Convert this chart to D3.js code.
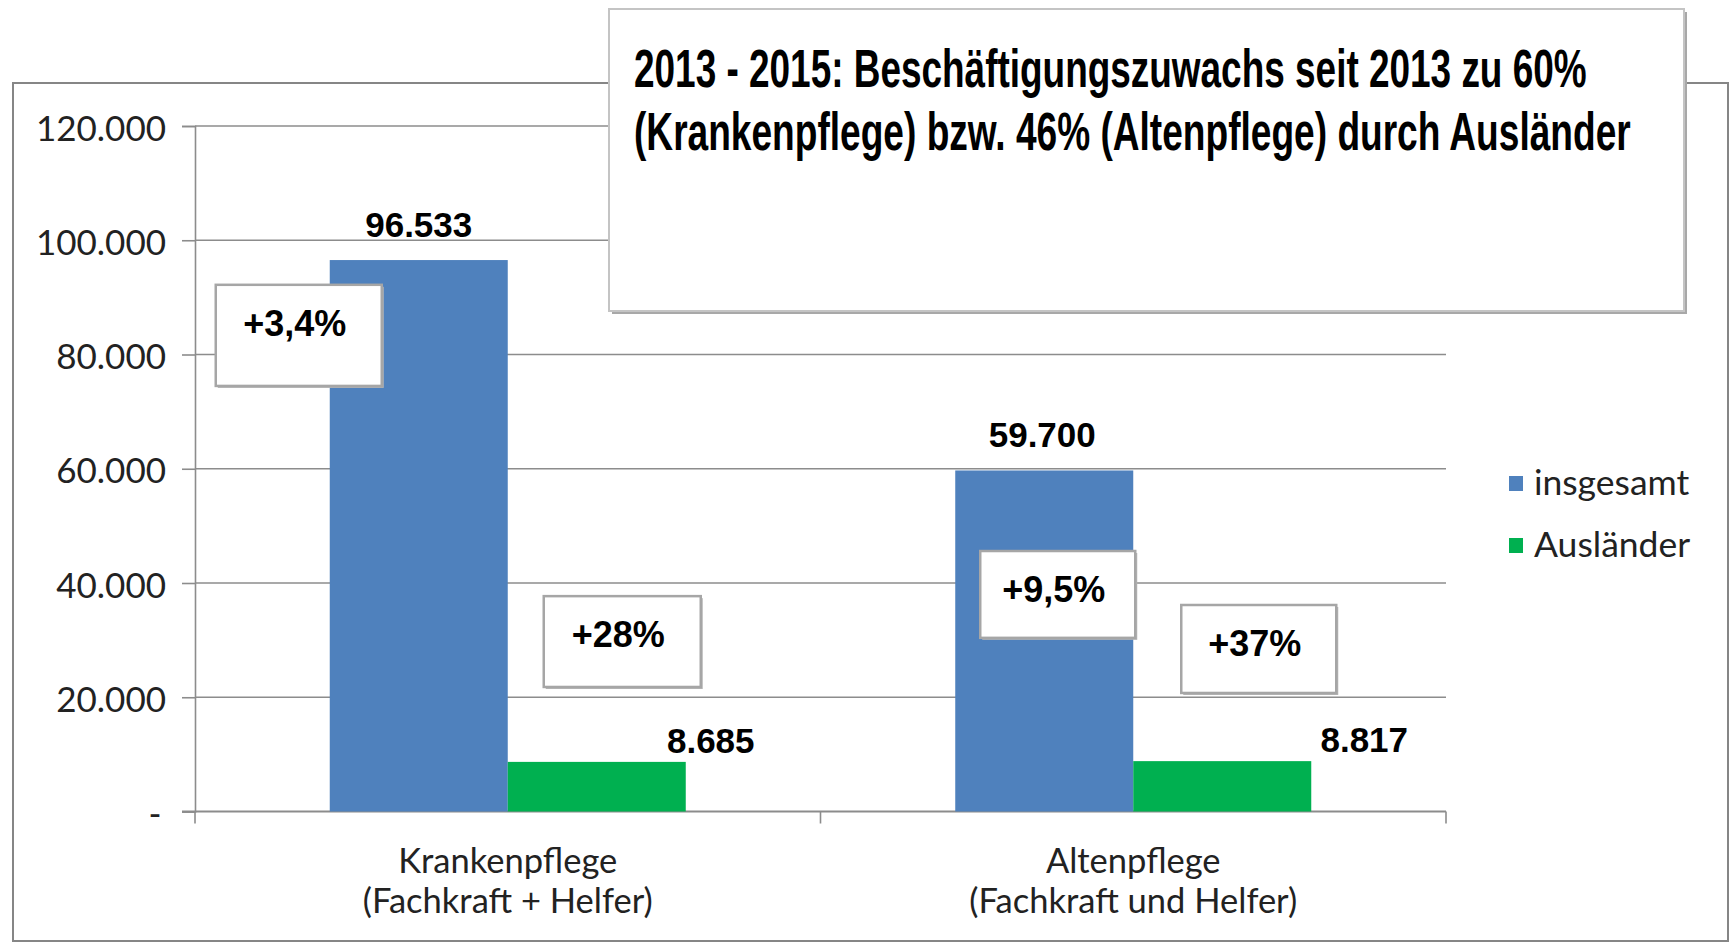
<!DOCTYPE html>
<html>
<head>
<meta charset="utf-8">
<script src="https://cdn.jsdelivr.net/npm/d3@7"></script>
<style>
  body { margin: 0; background: #fff; }
  svg { display: block; }
  .tick text { white-space: pre; }
</style>
</head>
<body>
<svg id="chart" width="1731" height="945"></svg>
<script>
// chart data
const categories = ["Krankenpflege", "Altenpflege"];
const categoryNotes = ["(Fachkraft + Helfer)", "(Fachkraft und Helfer)"];
const series = ["insgesamt", "Ausländer"];
const insgesamt = [96533, 59700];
const auslaender = [8685, 8817];
const changeInsgesamt = ["+3,4%", "+9,5%"];
const changeAuslaender = ["+28%", "+37%"];
const yTicks = [0, 20000, 40000, 60000, 80000, 100000, 120000];
const titleLines = [
    "2013 - 2015: Beschäftigungszuwachs seit 2013 zu 60%",
    "(Krankenpflege) bzw. 46% (Altenpflege) durch Ausländer"
];

const colors = {insgesamt: "#4f81bd", "Ausländer": "#00b050"};
const values = {insgesamt: insgesamt, "Ausländer": auslaender};
const changes = {insgesamt: changeInsgesamt, "Ausländer": changeAuslaender};

// manual placement of the callout boxes and moved labels (as in the original sheet)
const boxLayout = {
    insgesamt: [{dx: -114, top: 92200, bottom: 74500, w: 166}, {dx: 25, top: 45600, bottom: 30400, w: 155}],
    "Ausländer": [{dx: 36, top: 37700, bottom: 21800, w: 157}, {dx: 48, top: 36150, bottom: 20750, w: 155}]
};
const labelShift = {insgesamt: [0, -2], "Ausländer": [114, 142]};
const titleWidths = [953, 997];

const de = d3.formatLocale({decimal: ",", thousands: ".", grouping: [3], currency: ["", " €"]});
const fmt = de.format(",");

const W = 1731, H = 945;
const margin = {top: 126, right: 285, bottom: 133.5, left: 195};
const sansFont = "Lato, Carlito, Calibri, sans-serif";
const boldFont = "'Liberation Sans', Arial, sans-serif";

const svg = d3.select("#chart");

const x0 = d3.scaleBand()
    .domain(categories)
    .range([margin.left, W - margin.right]);
const x1 = d3.scaleBand()
    .domain(series)
    .range([0, x0.bandwidth()])
    .paddingInner(0)
    .paddingOuter(0.757);
const y = d3.scaleLinear()
    .domain([0, 120000])
    .range([H - margin.bottom, margin.top]);

// outer chart frame
svg.append("rect")
    .attr("x", 13).attr("y", 83)
    .attr("width", 1715).attr("height", 858)
    .attr("fill", "#fff")
    .attr("stroke", "#868686")
    .attr("stroke-width", 2);

// gridlines
svg.append("g")
    .selectAll("line")
    .data(yTicks.slice(1))
    .join("line")
    .attr("x1", margin.left).attr("x2", W - margin.right)
    .attr("y1", d => y(d)).attr("y2", d => y(d))
    .attr("stroke", "#8c8c8c")
    .attr("stroke-width", 1.6);

// y axis
const yAxis = svg.append("g")
    .attr("transform", `translate(${margin.left},0)`)
    .call(d3.axisLeft(y).tickValues(yTicks).tickSize(13).tickPadding(16)
        .tickFormat(d => d === 0 ? "-\u2009" : fmt(d)));
yAxis.select(".domain").attr("stroke", "#8c8c8c").attr("stroke-width", 1.6);
yAxis.selectAll(".tick line").attr("stroke", "#8c8c8c").attr("stroke-width", 1.6);
yAxis.selectAll(".tick text")
    .attr("fill", "#222")
    .attr("dy", "0.4em")
    .style("font-family", sansFont)
    .style("font-size", "35px");

// x axis line + boundary ticks
const xAxisY = y(0);
svg.append("line")
    .attr("x1", margin.left - 13).attr("x2", W - margin.right)
    .attr("y1", xAxisY).attr("y2", xAxisY)
    .attr("stroke", "#8c8c8c").attr("stroke-width", 1.8);
const bounds = categories.map(c => x0(c)).concat([x0(categories[categories.length - 1]) + x0.bandwidth()]);
svg.append("g")
    .selectAll("line")
    .data(bounds)
    .join("line")
    .attr("x1", d => d).attr("x2", d => d)
    .attr("y1", xAxisY).attr("y2", xAxisY + 12)
    .attr("stroke", "#8c8c8c").attr("stroke-width", 1.6);

// category labels
const catText = svg.append("g")
    .selectAll("text")
    .data(categories)
    .join("text")
    .attr("text-anchor", "middle")
    .attr("fill", "#222")
    .style("font-family", sansFont)
    .style("font-size", "34.5px");
catText.append("tspan")
    .attr("x", d => x0(d) + x0.bandwidth() / 2)
    .attr("y", xAxisY + 61)
    .text(d => d);
catText.append("tspan")
    .attr("x", d => x0(d) + x0.bandwidth() / 2)
    .attr("y", xAxisY + 101)
    .text((d, i) => categoryNotes[i]);

// bars
const rows = [];
categories.forEach((c, i) => {
    series.forEach(s => {
        rows.push({cat: c, s: s, i: i, v: values[s][i], change: changes[s][i]});
    });
});

svg.append("g")
    .selectAll("rect")
    .data(rows)
    .join("rect")
    .attr("x", d => x0(d.cat) + x1(d.s))
    .attr("y", d => y(d.v))
    .attr("width", x1.bandwidth())
    .attr("height", d => y(0) - y(d.v))
    .attr("fill", d => colors[d.s]);

// value labels
svg.append("g")
    .selectAll("text")
    .data(rows)
    .join("text")
    .attr("x", d => x0(d.cat) + x1(d.s) + x1.bandwidth() / 2 + labelShift[d.s][d.i])
    .attr("y", d => y(d.v) - (d.s === "insgesamt" ? 23 : 9))
    .attr("text-anchor", "middle")
    .attr("fill", "#000")
    .style("font-family", boldFont)
    .style("font-weight", "bold")
    .style("font-size", "35px")
    .text(d => fmt(d.v));

// change callout boxes
const notes = svg.append("g")
    .selectAll("g")
    .data(rows)
    .join("g")
    .attr("transform", d => {
        const b = boxLayout[d.s][d.i];
        return `translate(${x0(d.cat) + x1(d.s) + b.dx},${y(b.top)})`;
    });
notes.append("rect")
    .attr("x", 2).attr("y", 2)
    .attr("width", d => boxLayout[d.s][d.i].w)
    .attr("height", d => y(boxLayout[d.s][d.i].bottom) - y(boxLayout[d.s][d.i].top))
    .attr("fill", "#b4b4b4");
notes.append("rect")
    .attr("width", d => boxLayout[d.s][d.i].w)
    .attr("height", d => y(boxLayout[d.s][d.i].bottom) - y(boxLayout[d.s][d.i].top))
    .attr("fill", "#fff")
    .attr("stroke", "#a6a6a6")
    .attr("stroke-width", 2.5);
notes.append("text")
    .attr("x", d => boxLayout[d.s][d.i].w / 2 - 4)
    .attr("y", 51)
    .attr("text-anchor", "middle")
    .attr("fill", "#000")
    .style("font-family", boldFont)
    .style("font-weight", "bold")
    .style("font-size", "36px")
    .text(d => d.change);

// legend
const legend = svg.append("g")
    .selectAll("g")
    .data(series)
    .join("g")
    .attr("transform", (d, i) => `translate(1509,${476 + i * 62})`);
legend.append("rect")
    .attr("width", 14).attr("height", 15)
    .attr("fill", d => colors[d]);
legend.append("text")
    .attr("x", 25).attr("y", 19)
    .attr("fill", "#222")
    .style("font-family", sansFont)
    .style("font-size", "35.5px")
    .text(d => d);

// title box
const tb = svg.append("g").attr("transform", "translate(609,9)");
tb.append("rect")
    .attr("x", 3).attr("y", 3)
    .attr("width", 1075).attr("height", 302)
    .attr("fill", "#a8a8a8");
tb.append("rect")
    .attr("width", 1075).attr("height", 302)
    .attr("fill", "#fff")
    .attr("stroke", "#c4c4c4")
    .attr("stroke-width", 2);
// condensed title lines: squeeze horizontally to the original width
tb.selectAll("text")
    .data(titleLines)
    .join("text")
    .attr("fill", "#000")
    .style("font-family", "'Liberation Sans Narrow', 'Arial Narrow', 'Liberation Sans', sans-serif")
    .style("font-weight", "bold")
    .style("font-size", "54px")
    .text(d => d)
    .attr("transform", function(d, i) {
        const k = titleWidths[i] / this.getComputedTextLength();
        return `translate(25,${78 + i * 63}) scale(${k},1)`;
    });
</script>
</body>
</html>
